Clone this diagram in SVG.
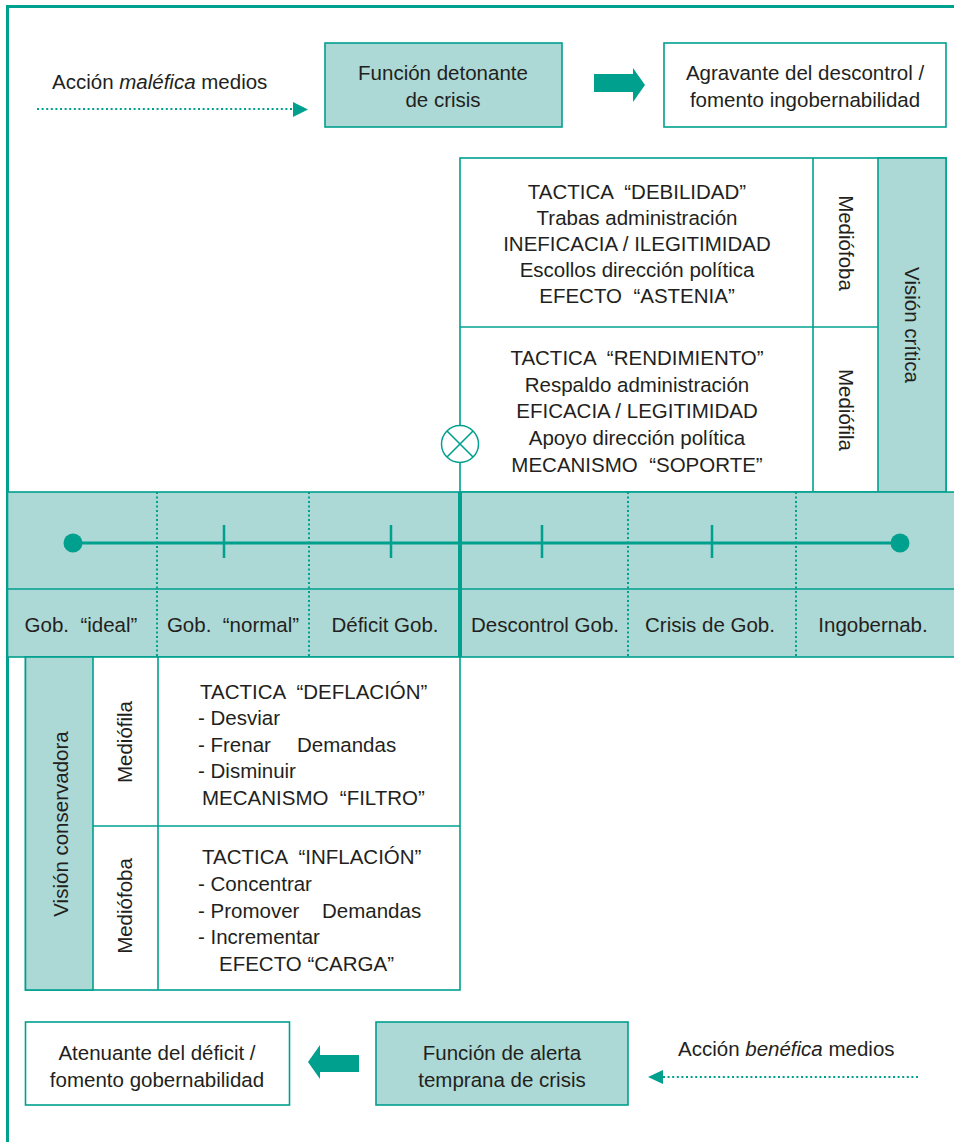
<svg xmlns="http://www.w3.org/2000/svg" width="954" height="1142" viewBox="0 0 954 1142">
<style>
text{font-family:"Liberation Sans",Arial,sans-serif;font-size:20.5px;fill:#231f20;white-space:pre}
.c{text-anchor:middle}
.v{text-anchor:middle;dominant-baseline:central}
.box{stroke:#00a08f;stroke-width:1.6}
.teal{fill:#acd8d5}
.white{fill:#fff}
.ln{stroke:#00a08f;stroke-width:1.6;fill:none}
.dot{stroke:#00a08f;stroke-width:2.2;stroke-dasharray:2 2.6;fill:none}
.vdot{stroke:#00a08f;stroke-width:2;stroke-dasharray:2 2.5;fill:none}
</style>
<rect x="0" y="0" width="954" height="1142" fill="#fff"/>
<rect x="7.5" y="6.5" width="960" height="1150" fill="none" stroke="#00a08f" stroke-width="3"/>

<g id="top-action">
<text x="52" y="89" xml:space="preserve">Acción <tspan font-style="italic">maléfica</tspan> medios</text>
</g>
<g id="funcion-detonante">
<rect class="box teal" x="325" y="43" width="237" height="84"/>
<text class="c" x="443" y="80">Función detonante</text>
<text class="c" x="443" y="107">de crisis</text>
</g>
<g id="agravante">
<rect class="box white" x="664" y="43" width="282" height="84"/>
<text class="c" x="805" y="80">Agravante del descontrol /</text>
<text class="c" x="805" y="107">fomento ingobernabilidad</text>
</g>

<g id="vision-critica">
<rect class="box white" x="460" y="158" width="486" height="334"/>
<rect class="box teal" x="878" y="158" width="68" height="334"/>
<line class="ln" x1="813" y1="158" x2="813" y2="492"/>
<line class="ln" x1="460" y1="327" x2="878" y2="327"/>
<text class="v" transform="translate(912,325) rotate(90)">Visión crítica</text>
<text class="v" transform="translate(846,243) rotate(90)">Mediófoba</text>
<text class="v" transform="translate(846,410) rotate(90)">Mediófila</text>
<text class="c" x="637" y="199" xml:space="preserve">TACTICA  “DEBILIDAD”</text>
<text class="c" x="637" y="225">Trabas administración</text>
<text class="c" x="637" y="251">INEFICACIA / ILEGITIMIDAD</text>
<text class="c" x="637" y="277">Escollos dirección política</text>
<text class="c" x="637" y="303" xml:space="preserve">EFECTO  “ASTENIA”</text>
<text class="c" x="637" y="365" xml:space="preserve">TACTICA  “RENDIMIENTO”</text>
<text class="c" x="637" y="392">Respaldo administración</text>
<text class="c" x="637" y="418">EFICACIA / LEGITIMIDAD</text>
<text class="c" x="637" y="445">Apoyo dirección política</text>
<text class="c" x="637" y="472" xml:space="preserve">MECANISMO  “SOPORTE”</text>
<circle cx="460" cy="444" r="18.5" fill="#fff" stroke="#00a08f" stroke-width="1.5"/>
<path class="ln" d="M447 431 L473 457 M473 431 L447 457" stroke-width="1.4"/>
</g>

<g id="scale-bar">
<rect x="7.5" y="492" width="950" height="165" fill="#acd8d5" stroke="#00a08f" stroke-width="1.6"/>
<line class="ln" x1="7.5" y1="589" x2="954" y2="589"/>
<line class="vdot" x1="157" y1="492" x2="157" y2="657"/>
<line class="vdot" x1="309" y1="492" x2="309" y2="657"/>
<line class="vdot" x1="628" y1="492" x2="628" y2="657"/>
<line class="vdot" x1="796" y1="492" x2="796" y2="657"/>
<line x1="460" y1="492" x2="460" y2="657" stroke="#00a08f" stroke-width="4"/>
<line x1="73" y1="543" x2="900" y2="543" stroke="#00a08f" stroke-width="3"/>
<circle cx="73" cy="543" r="9.5" fill="#00a08f"/>
<circle cx="900" cy="543" r="9.5" fill="#00a08f"/>
<g stroke="#00a08f" stroke-width="2.5">
<line x1="224" y1="525" x2="224" y2="558"/>
<line x1="391" y1="525" x2="391" y2="558"/>
<line x1="542" y1="525" x2="542" y2="558"/>
<line x1="712" y1="525" x2="712" y2="558"/>
</g>
<text class="c" x="81" y="632" xml:space="preserve">Gob.  “ideal”</text>
<text class="c" x="233" y="632" xml:space="preserve">Gob.  “normal”</text>
<text class="c" x="385" y="632">Déficit Gob.</text>
<text class="c" x="545" y="632">Descontrol Gob.</text>
<text class="c" x="710" y="632">Crisis de Gob.</text>
<text class="c" x="873" y="632">Ingobernab.</text>
</g>

<g id="vision-conservadora">
<rect class="box white" x="25.5" y="657" width="434.5" height="333"/>
<rect class="box teal" x="25.5" y="657" width="67.5" height="333"/>
<line class="ln" x1="158" y1="657" x2="158" y2="990"/>
<line class="ln" x1="93" y1="826" x2="460" y2="826"/>
<text class="v" transform="translate(60,824) rotate(-90)">Visión conservadora</text>
<text class="v" transform="translate(124,742) rotate(-90)">Mediófila</text>
<text class="v" transform="translate(124,906) rotate(-90)">Mediófoba</text>
<text x="200" y="699" xml:space="preserve">TACTICA  “DEFLACIÓN”</text>
<text x="198" y="725">- Desviar</text>
<text x="198" y="752">- Frenar<tspan x="297">Demandas</tspan></text>
<text x="198" y="778">- Disminuir</text>
<text x="202" y="805" xml:space="preserve">MECANISMO  “FILTRO”</text>
<text x="202" y="864" xml:space="preserve">TACTICA  “INFLACIÓN”</text>
<text x="198" y="891">- Concentrar</text>
<text x="198" y="918">- Promover<tspan x="322">Demandas</tspan></text>
<text x="198" y="944">- Incrementar</text>
<text x="219" y="971">EFECTO “CARGA”</text>
</g>

<g id="atenuante">
<rect class="box white" x="25.5" y="1022" width="264" height="83"/>
<text class="c" x="157" y="1060">Atenuante del déficit /</text>
<text class="c" x="157" y="1087">fomento gobernabilidad</text>
</g>
<g id="funcion-alerta">
<rect class="box teal" x="376" y="1022" width="252" height="83"/>
<text class="c" x="502" y="1060">Función de alerta</text>
<text class="c" x="502" y="1087">temprana de crisis</text>
</g>
<g id="bottom-action">
<text x="678" y="1056" xml:space="preserve">Acción <tspan font-style="italic">benéfica</tspan> medios</text>
</g>

<g id="connectors">
<line class="dot" x1="37" y1="109" x2="293" y2="109"/>
<polygon points="293,102 308,109.5 293,117" fill="#00a08f"/>
<polygon points="594,74 633,74 633,68 645,85 633,102 633,92 594,92" fill="#00a08f"/>
<polygon points="359,1055 320,1055 320,1045 308,1062 320,1079 320,1072 359,1072" fill="#00a08f"/>
<line class="dot" x1="918" y1="1077" x2="663" y2="1077"/>
<polygon points="663,1070 648,1077 663,1084" fill="#00a08f"/>
</g>
</svg>
